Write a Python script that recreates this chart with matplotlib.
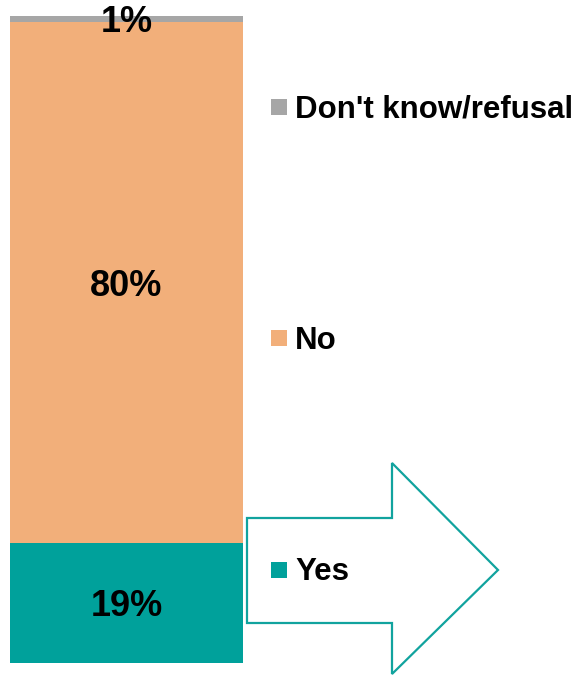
import matplotlib.pyplot as plt
from matplotlib.patches import Polygon, Rectangle

plt.rcParams['font.family'] = ['Liberation Sans', 'DejaVu Sans']

categories = ['Yes', 'No', "Don't know/refusal"]
values = [18.5, 80.6, 0.9]
labels = ['19%', '80%', '1%']
colors = ['#00A19B', '#F2AF7A', '#A6A6A6']

W, H = 585, 675
fig = plt.figure(figsize=(W / 100, H / 100), dpi=100)

# stacked bar
ax = fig.add_axes([10 / W, (H - 663) / H, 233 / W, 647 / H])
bottom = 0
for cat, val, lab, col in zip(categories, values, labels, colors):
    ax.bar(0, val, bottom=bottom, width=1, color=col, linewidth=0)
    # baseline sits half a cap height below the segment middle
    ax.annotate(lab, (0, bottom + val / 2), xytext=(0, -9.5), textcoords='offset points',
                ha='center', va='baseline', fontsize=26, fontweight='bold')
    bottom += val
ax.set_xlim(-0.5, 0.5)
ax.set_ylim(0, 100)
ax.axis('off')

# overlay in pixel coords for arrow and legend
ov = fig.add_axes([0, 0, 1, 1])
ov.set_xlim(0, W)
ov.set_ylim(H, 0)
ov.axis('off')
ov.set_zorder(-1)

arrow = Polygon([(247, 518), (392, 518), (392, 463), (498, 570),
                 (392, 674), (392, 623), (247, 623)],
                closed=True, facecolor='white', edgecolor='#11A39E', linewidth=1.6)
ov.add_patch(arrow)

legend_y = {'Yes': 569.5, 'No': 338, "Don't know/refusal": 106.5}
for cat, col in zip(categories, colors):
    y = legend_y[cat]
    ov.add_patch(Rectangle((271, y - 8), 16, 16, facecolor=col, linewidth=0))
    ov.text(295, y + 11, cat, ha='left', va='baseline', fontsize=22.5, fontweight='bold')

fig.savefig('out.png', dpi=100)
